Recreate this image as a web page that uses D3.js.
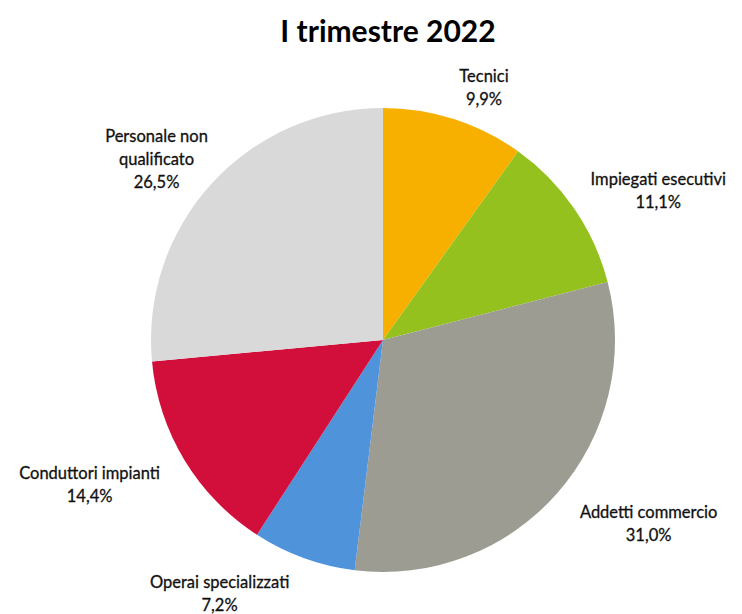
<!DOCTYPE html>
<html><head><meta charset="utf-8">
<script src="https://cdn.jsdelivr.net/npm/d3@7"></script>
<style>body{margin:0;background:#fff}svg{display:block}</style>
</head><body>
<svg id="c" width="742" height="614"></svg>
<script>
const categories = ["Tecnici","Impiegati esecutivi","Addetti commercio","Operai specializzati","Conduttori impianti","Personale non qualificato"];
const values = [9.9, 11.1, 31.0, 7.2, 14.4, 26.5];
const valueLabels = ["9,9%","11,1%","31,0%","7,2%","14,4%","26,5%"];
const labelLines = [["Tecnici"],["Impiegati esecutivi"],["Addetti commercio"],["Operai specializzati"],["Conduttori impianti"],["Personale non","qualificato"]];
const colors = ["#F8B000","#95C11F","#9C9C93","#4F93DB","#D20F3B","#D9D9D9"];
const title = "I trimestre 2022";

// layout: label angle shift (deg) and distance from center
const labelShift = [4, 6, -6.6, 12.8, 5, -3.7];
const labelDist = [272, 313, 323, 302, 327, 290];

const svg = d3.select("#c");
const font = "Lato, 'Open Sans', sans-serif";
const cx = 383, cy = 340, R = 232;

svg.append("text").attr("x", 388).attr("y", 42).attr("text-anchor","middle")
  .attr("font-family", font).attr("font-weight","bold").attr("font-size", 30)
  .attr("fill","#000").text(title);

const data = categories.map((c,i)=>({c, v: values[i], i}));
const pie = d3.pie().value(d=>d.v).sort(null);
const arc = d3.arc().innerRadius(0).outerRadius(R);
const g = svg.append("g").attr("transform", `translate(${cx},${cy})`);
const arcs = pie(data);
g.selectAll("path").data(arcs).join("path").attr("d", arc).attr("fill", d=>colors[d.data.i]);

const lh = 23;
arcs.forEach(a=>{
  const i = a.data.i;
  const ang = (a.startAngle + a.endAngle)/2 + labelShift[i]*Math.PI/180;
  const x = Math.sin(ang)*labelDist[i], y = -Math.cos(ang)*labelDist[i];
  const lines = labelLines[i].concat([valueLabels[i]]);
  const t = g.append("text").attr("text-anchor","middle").attr("font-family", font)
    .attr("font-size", 16.5).attr("fill","#111").attr("stroke","#111").attr("stroke-width",0.3);
  const y0 = y - (lines.length-1)*lh/2;
  lines.forEach((l,k)=>{
    t.append("tspan").attr("x", x).attr("y", y0 + k*lh).attr("dy","0.35em").text(l);
  });
});
</script>
</body></html>
